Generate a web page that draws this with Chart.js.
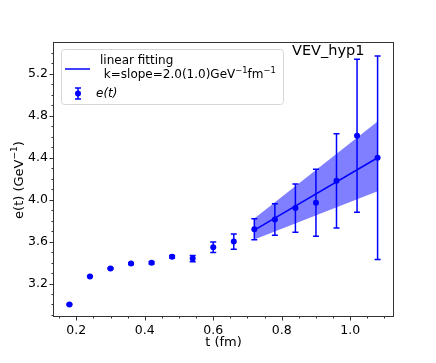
<!DOCTYPE html>
<html>
<head>
<meta charset="utf-8">
<script src="https://cdn.jsdelivr.net/npm/chart.js@4.4.1/dist/chart.umd.min.js"></script>
<style>
    html, body { margin: 0; padding: 0; background: #fff; }
</style>
</head>
<body>
<canvas id="chart" width="436" height="363"></canvas>
<script>
// data
const tValues = [0.18, 0.24, 0.30, 0.36, 0.42, 0.48, 0.54, 0.60, 0.66, 0.72, 0.78, 0.84, 0.90, 0.96, 1.02, 1.08];
const eValues = [3.00, 3.267, 3.343, 3.39, 3.397, 3.455, 3.438, 3.546, 3.60, 3.717, 3.81, 3.92, 3.97, 4.18, 4.61, 4.40];
const eErrors = [0.005, 0.006, 0.008, 0.008, 0.01, 0.012, 0.03, 0.05, 0.072, 0.10, 0.15, 0.23, 0.32, 0.45, 0.73, 0.97];

const fitT = [0.72, 1.08];
const fitE = [3.71, 4.40];
const bandLow = [3.62, 4.08];
const bandHigh = [3.82, 4.745];

const xTicks = [0.2, 0.4, 0.6, 0.8, 1.0];
const yTicks = [3.2, 3.6, 4.0, 4.4, 4.8, 5.2];

// text pieces, [text, isSuperscript]
const xLabel = [['t (fm)', false]];
const yLabel = [['e(t) (GeV', false], ['−1', true], [')', false]];
const titleText = 'VEV_hyp1';
const fitLabel1 = [['linear fitting', false]];
const fitLabel2 = [[' k=slope=2.0(1.0)GeV', false], ['−1', true], ['fm', false], ['−1', true]];
const dataLabel = 'e(t)';

const BLUE = '#0000ff';
const AXIS = '#333';
const FONT = '"DejaVu Sans"';

function drawErrBar(ctx, px, top, bot, cap) {
    ctx.beginPath();
    ctx.moveTo(px, top); ctx.lineTo(px, bot);
    ctx.moveTo(px - cap, top); ctx.lineTo(px + cap, top);
    ctx.moveTo(px - cap, bot); ctx.lineTo(px + cap, bot);
    ctx.stroke();
}

// draws text with superscripts, x is left edge or centre
function drawRich(ctx, parts, x, y, size, centre) {
    const fontFor = sup => `${sup ? size * 0.7 : size}px ${FONT}`;
    let total = 0;
    parts.forEach(([t, sup]) => { ctx.font = fontFor(sup); total += ctx.measureText(t).width; });
    let cx = centre ? x - total / 2 : x;
    ctx.textAlign = 'left';
    parts.forEach(([t, sup]) => {
        ctx.font = fontFor(sup);
        ctx.fillText(t, cx, sup ? y - size * 0.38 : y);
        cx += ctx.measureText(t).width;
    });
}

const errorBars = {
    id: 'errorBars',
    beforeDatasetDraw(chart, args) {
        if (args.index !== 0) return;
        const { ctx, scales: { x, y } } = chart;
        ctx.save();
        ctx.strokeStyle = BLUE;
        ctx.lineWidth = 1.5;
        tValues.forEach((t, i) => {
            const px = x.getPixelForValue(t);
            drawErrBar(ctx, px,
                y.getPixelForValue(eValues[i] + eErrors[i]),
                y.getPixelForValue(eValues[i] - eErrors[i]), 3);
        });
        ctx.restore();
    }
};

const decorations = {
    id: 'decorations',
    afterDraw(chart) {
        const { ctx, chartArea: a, scales: { x, y } } = chart;
        ctx.save();

        // frame
        ctx.strokeStyle = AXIS;
        ctx.lineWidth = 1;
        ctx.strokeRect(a.left - 0.5, a.top - 0.5, a.right - a.left + 1, a.bottom - a.top + 1);

        // ticks, outward
        ctx.beginPath();
        for (let k = 3; k <= 22; k++) {
            const px = Math.round(x.getPixelForValue(k * 0.05)) + 0.5;
            const len = (k % 4 === 0) ? 4.5 : 2.5;
            ctx.moveTo(px, a.bottom); ctx.lineTo(px, a.bottom + len);
        }
        for (let k = 29; k <= 54; k++) {
            const py = Math.round(y.getPixelForValue(k * 0.1)) + 0.5;
            const len = (k % 4 === 0) ? 4.5 : 2.5;
            ctx.moveTo(a.left, py); ctx.lineTo(a.left - len, py);
        }
        ctx.stroke();

        // axis titles
        ctx.fillStyle = '#000';
        ctx.textBaseline = 'middle';
        drawRich(ctx, xLabel, (a.left + a.right) / 2, 343, 13, true);
        ctx.save();
        ctx.translate(20, 180);
        ctx.rotate(-Math.PI / 2);
        drawRich(ctx, yLabel, 0, 0, 13, true);
        ctx.restore();

        // title text inside the axes
        ctx.font = `14.5px ${FONT}`;
        ctx.textAlign = 'left';
        ctx.textBaseline = 'alphabetic';
        ctx.fillText(titleText, 292, 55);

        // legend
        const bx = 61, by = 49, bw = 222, bh = 55;
        ctx.beginPath();
        ctx.roundRect(bx + 0.5, by + 0.5, bw, bh, 3);
        ctx.fillStyle = 'rgba(255,255,255,0.8)';
        ctx.fill();
        ctx.strokeStyle = '#d6d6d6';
        ctx.stroke();

        ctx.strokeStyle = BLUE;
        ctx.lineWidth = 1.5;
        ctx.beginPath();
        ctx.moveTo(65, 69); ctx.lineTo(90, 69);
        ctx.stroke();

        drawErrBar(ctx, 78, 88, 99, 3);
        ctx.fillStyle = BLUE;
        ctx.beginPath();
        ctx.arc(78, 93.5, 3, 0, Math.PI * 2);
        ctx.fill();

        ctx.fillStyle = '#000';
        ctx.textBaseline = 'middle';
        drawRich(ctx, fitLabel1, 100, 61, 12, false);
        drawRich(ctx, fitLabel2, 100, 75, 12, false);
        ctx.font = `italic 12px ${FONT}`;
        ctx.fillText(dataLabel, 96, 93.5);

        ctx.restore();
    }
};

const toPoints = (xs, ys) => xs.map((v, i) => ({ x: v, y: ys[i] }));

new Chart(document.getElementById('chart'), {
    type: 'scatter',
    data: {
        datasets: [
            {
                label: dataLabel,
                data: toPoints(tValues, eValues),
                backgroundColor: BLUE,
                borderColor: BLUE,
                pointRadius: 3,
                pointBorderWidth: 0
            },
            {
                type: 'line',
                data: toPoints(fitT, fitE),
                borderColor: BLUE,
                borderWidth: 1.5,
                pointRadius: 0,
                fill: false
            },
            {
                type: 'line',
                data: toPoints(fitT, bandLow),
                borderWidth: 0,
                pointRadius: 0,
                fill: false
            },
            {
                type: 'line',
                data: toPoints(fitT, bandHigh),
                borderWidth: 0,
                pointRadius: 0,
                fill: '-1',
                backgroundColor: 'rgba(0,0,255,0.5)'
            }
        ]
    },
    options: {
        responsive: false,
        animation: false,
        layout: { padding: { top: 43, right: 43, left: 0, bottom: 0 } },
        plugins: { legend: { display: false }, tooltip: { enabled: false } },
        scales: {
            x: {
                type: 'linear',
                min: 0.135,
                max: 1.125,
                afterBuildTicks: s => { s.ticks = xTicks.map(v => ({ value: v })); },
                afterFit: s => { s.height = 47; },
                grid: { display: false, drawTicks: false },
                border: { display: false },
                ticks: {
                    autoSkip: false,
                    maxRotation: 0,
                    padding: 7,
                    color: '#000',
                    font: { family: 'DejaVu Sans', size: 12.5 },
                    callback: v => v.toFixed(1)
                }
            },
            y: {
                type: 'linear',
                min: 2.89,
                max: 5.495,
                afterBuildTicks: s => { s.ticks = yTicks.map(v => ({ value: v })); },
                afterFit: s => { s.width = 54; },
                grid: { display: false, drawTicks: false },
                border: { display: false },
                ticks: {
                    autoSkip: false,
                    padding: 6,
                    color: '#000',
                    font: { family: 'DejaVu Sans', size: 12.5 },
                    callback: v => v.toFixed(1)
                }
            }
        }
    },
    plugins: [errorBars, decorations]
});
</script>
</body>
</html>
